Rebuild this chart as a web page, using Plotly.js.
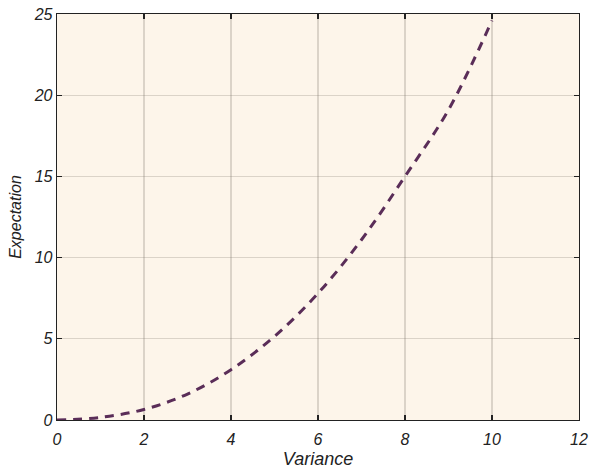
<!DOCTYPE html>
<html>
<head>
<meta charset="utf-8">
<script src="https://cdn.plot.ly/plotly-3.0.1.min.js"></script>
<style>html,body{margin:0;padding:0;background:#fff;}#chart{width:591px;height:473px;}</style>
</head>
<body>
<div id="chart"></div>
<script>
const variance = [0, 1, 2, 3, 4, 5, 6, 7, 8, 9, 10];
const expectation = [0, 0.16, 0.65, 1.6, 3.1, 5.15, 7.8, 11.1, 15, 19.1, 24.6];
const xTicks = [0, 2, 4, 6, 8, 10, 12];
const yTicks = [0, 5, 10, 15, 20, 25];

const fam = 'Liberation Sans, Arial, sans-serif';
const axisCommon = {
  showline: true, linecolor: '#222', linewidth: 1.3, mirror: 'ticks',
  ticks: 'inside', ticklen: 5, tickcolor: '#222', tickwidth: 1.2,
  showgrid: true, gridcolor: 'rgba(120,110,100,0.25)', gridwidth: 1.2,
  zeroline: false, tickfont: {family: fam, size: 16, color: '#222', style: 'italic'}
};

Plotly.newPlot('chart', [{
  x: variance, y: expectation, type: 'scatter', mode: 'lines',
  line: {color: '#5a2d58', width: 3, dash: '9px,7px', shape: 'spline'}
}], {
  width: 591, height: 473,
  margin: {l: 57, r: 12, t: 14, b: 53},
  paper_bgcolor: '#ffffff', plot_bgcolor: '#fdf5ea',
  showlegend: false, font: {family: fam, size: 16, color: '#222'},
  xaxis: Object.assign({}, axisCommon, {
    range: [0, 12], tickvals: xTicks, ticktext: xTicks.map(String),
    ticklabelstandoff: 4,
    title: {text: 'Variance', font: {family: fam, size: 18, color: '#222', style: 'italic'}, standoff: 6}
  }),
  yaxis: Object.assign({}, axisCommon, {
    range: [0, 25], tickvals: yTicks, ticktext: yTicks.map(String),
    title: {text: 'Expectation', font: {family: fam, size: 16, color: '#222', style: 'italic'}, standoff: 8}
  })
}, {displayModeBar: false, staticPlot: true});
</script>
</body>
</html>
